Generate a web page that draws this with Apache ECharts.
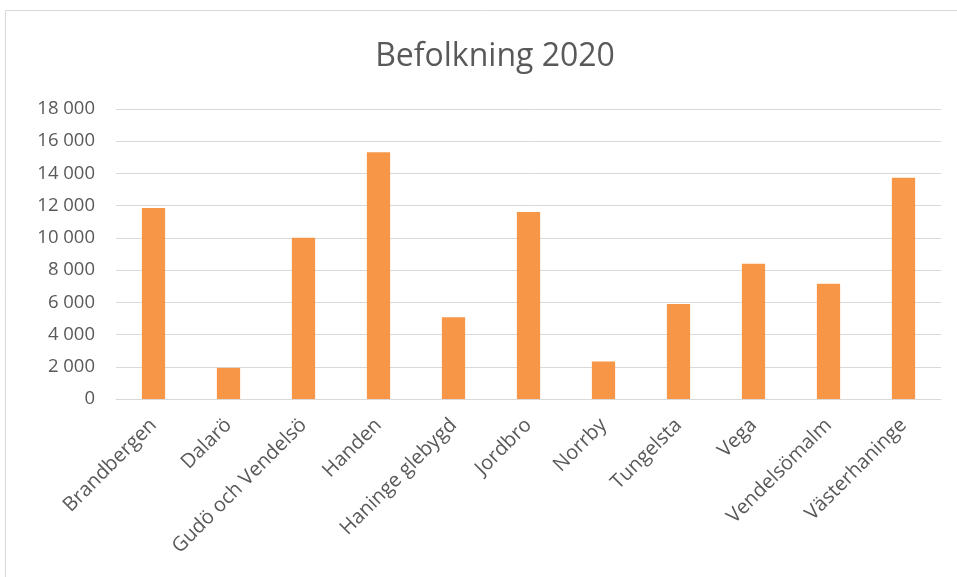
<!DOCTYPE html>
<html><head><meta charset="utf-8">
<script src="https://cdn.jsdelivr.net/npm/echarts@6/dist/echarts.min.js"></script>
<style>html,body{margin:0;padding:0;background:#fff}#c{width:957px;height:577px}</style>
</head><body><div id="c"></div>
<script>
const categories = ["Brandbergen","Dalarö","Gudö och Vendelsö","Handen","Haninge glebygd","Jordbro","Norrby","Tungelsta","Vega","Vendelsömalm","Västerhaninge"];
const population = [11860, 1930, 10010, 15320, 5070, 11610, 2320, 5900, 8390, 7160, 13730];
const titleText = "Befolkning 2020";

const chart = echarts.init(document.getElementById('c'), null, {renderer:'canvas'});
const fmt = v => String(v).replace(/\B(?=(\d{3})+(?!\d))/g, ' ');
chart.setOption({
  animation: false,
  backgroundColor: '#fff',
  graphic: [{type:'rect', shape:{x:5.5,y:10.5,width:1000,height:600}, style:{fill:'none', stroke:'#d9d9d9', lineWidth:1}, z:-1}],
  title: {text: titleText, left: 490, top: 36, textAlign: 'center',
    textStyle: {fontFamily:'Open Sans', fontWeight: 400, fontSize: 32, color:'#595959'}},
  grid: {left: 116, right: 16, top: 109, bottom: 178},
  xAxis: {type:'category', data: categories,
    axisLine:{lineStyle:{color:'#d9d9d9', width:1}}, axisTick:{show:false},
    axisLabel:{rotate:45, interval:0, fontFamily:'Open Sans', fontSize:20, color:'#595959', margin:23}},
  yAxis: {type:'value', min:0, max:18000, interval:2000,
    axisLine:{show:false}, axisTick:{show:false},
    splitLine:{lineStyle:{color:'#d9d9d9', width:1}},
    axisLabel:{formatter: fmt, fontFamily:'Open Sans', fontSize:18.5, color:'#595959', margin:21}},
  series: [{type:'bar', data: population, barWidth:'31%', itemStyle:{color:'#f79646'}}]
});
</script></body></html>
